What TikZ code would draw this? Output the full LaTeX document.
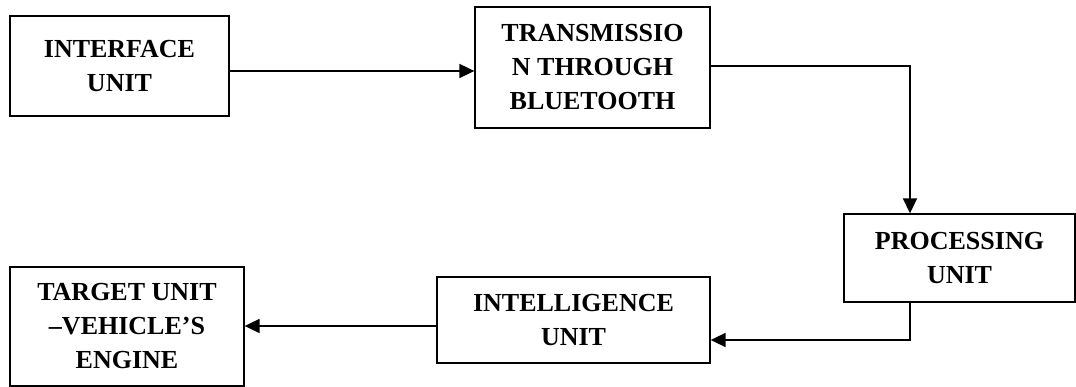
\documentclass[tikz,border=0pt]{standalone}
\usepackage{fontspec}
\setmainfont{Liberation Serif}
\usetikzlibrary{arrows.meta}
\tikzset{
  unitbox/.style={draw, line width=1.3pt, rectangle, inner sep=0pt, align=center,
    font=\fontsize{26}{34}\selectfont\bfseries},
  flow/.style={line width=1.8pt, -{Triangle[length=15pt,width=14pt]}}
}
\begin{document}
\begin{tikzpicture}[x=1pt,y=-1pt]
  \useasboundingbox (0,0) rectangle (1076,387);
  % blocks: centre, width and height in points
  \node[unitbox, minimum width=219pt, minimum height=100pt] (iface) at (119.5,66) {INTERFACE\\UNIT};
  \node[unitbox, minimum width=235pt, minimum height=121pt] (trans) at (592.5,67.5) {TRANSMISSIO\\N THROUGH\\BLUETOOTH};
  \node[unitbox, minimum width=231pt, minimum height=88pt] (proc) at (959.5,258) {PROCESSING\\UNIT};
  \node[unitbox, minimum width=273pt, minimum height=86pt] (intel) at (573.5,320) {INTELLIGENCE\\UNIT};
  \node[unitbox, minimum width=234pt, minimum height=119pt] (target) at (127,326.5) {TARGET UNIT\\–VEHICLE’S\\ENGINE};
  % connectors
  \coordinate (c1) at (910,66);
  \coordinate (c2) at (910,340);
  \draw[flow] (iface.east |- 0,71) -- (trans.west |- 0,71);
  \draw[flow] (trans.east |- c1) -- (c1) -- (proc.north -| c1);
  \draw[flow] (proc.south -| c2) -- (c2) -- (intel.east |- c2);
  \draw[flow] (intel.west |- 0,326) -- (target.east |- 0,326);
\end{tikzpicture}
\end{document}
